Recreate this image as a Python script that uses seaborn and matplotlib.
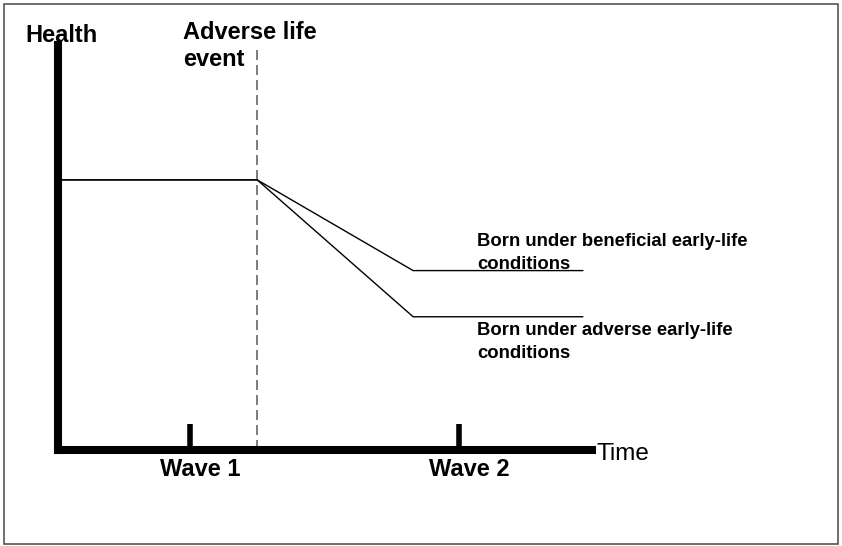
import matplotlib
matplotlib.use("Agg")
import matplotlib.pyplot as plt
import matplotlib.transforms as mtransforms
from matplotlib.patches import Rectangle
import seaborn as sns

# Schematic values (arbitrary units)
time_points = [0.0, 3.73, 6.65, 9.83]
health_beneficial = [6.67, 6.67, 4.43, 4.43]
health_adverse = [6.67, 6.67, 3.29, 3.29]
event_time = 3.73
wave_ticks = [2.47, 7.51]
wave_labels = ["Wave 1", "Wave 2"]

sns.set_style("white")
plt.rcParams["font.family"] = ["Liberation Sans", "DejaVu Sans"]
plt.rcParams["text.color"] = "black"
plt.rcParams["xtick.color"] = "black"

fig = plt.figure(figsize=(8.42, 5.46), dpi=100)
W, H = 842, 546
ax = fig.add_axes([58 / W, (H - 450) / H, (592 - 58) / W, (450 - 45) / H])

sns.lineplot(x=time_points, y=health_beneficial, ax=ax, color="black", lw=1.0)
sns.lineplot(x=time_points, y=health_adverse, ax=ax, color="black", lw=1.0)
ax.axvline(event_time, color="#666666", lw=1.2, ls=(0, (6, 3)), zorder=1)

ax.set_xlim(0, 10)
ax.set_ylim(0, 10)
ax.set_yticks([])
for side in ["top", "right"]:
    ax.spines[side].set_visible(False)
for side in ["left", "bottom"]:
    ax.spines[side].set_linewidth(5.8)
    ax.spines[side].set_color("black")
    ax.spines[side].set_capstyle("projecting")

ax.set_xticks(wave_ticks)
ax.set_xticklabels(wave_labels, fontsize=17, fontweight="bold", color="black")
ax.tick_params(axis="x", bottom=True, direction="in", length=19, width=4, pad=6,
               color="black")
offset = mtransforms.ScaledTranslation(10 / 100, 0, fig.dpi_scale_trans)
for lab in ax.get_xticklabels():
    lab.set_transform(lab.get_transform() + offset)
for tl in ax.xaxis.get_ticklines():
    tl.set_solid_capstyle("round")

ax.text(0.07, 10.07, "Health", ha="center", va="baseline", fontsize=17, fontweight="bold")
ax.text(2.34, 10.6, "Adverse life\nevent", ha="left", va="top", fontsize=17,
        fontweight="bold", linespacing=1.25)
ax.text(10.09, -0.25, "Time", ha="left", va="baseline", fontsize=17.5)
ax.text(7.85, 5.36, "Born under beneficial early-life\nconditions", ha="left", va="top",
        fontsize=13.3, fontweight="bold", linespacing=1.45)
ax.text(7.85, 3.16, "Born under adverse early-life\nconditions", ha="left", va="top",
        fontsize=13.3, fontweight="bold", linespacing=1.45)

fig.patches.append(Rectangle((4 / W, 2 / H), 834 / W, 540 / H, transform=fig.transFigure,
                             fill=False, edgecolor="#555555", lw=1.2))

fig.savefig("out.png", dpi=100)
